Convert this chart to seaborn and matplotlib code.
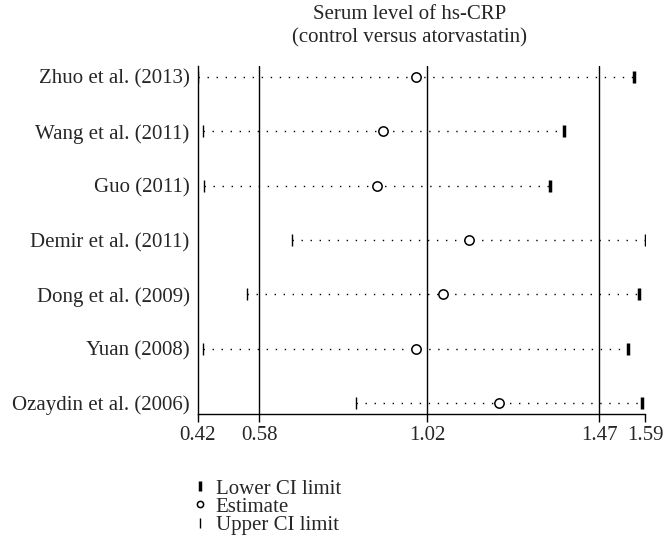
import matplotlib
matplotlib.use('Agg')
import matplotlib.pyplot as plt
import seaborn as sns
import pandas as pd
from matplotlib.lines import Line2D

# Study data
studies = ['Zhuo et al. (2013)', 'Wang et al. (2011)', 'Guo (2011)', 'Demir et al. (2011)',
           'Dong et al. (2009)', 'Yuan (2008)', 'Ozaydin et al. (2006)']
lower = [0.42, 0.434, 0.436, 0.666, 0.549, 0.434, 0.834]
estimate = [0.991, 0.905, 0.889, 1.130, 1.062, 0.991, 1.209]
upper = [1.560, 1.378, 1.341, 1.593, 1.574, 1.546, 1.582]
xticks = [0.42, 0.58, 1.02, 1.47, 1.59]
ref_lines = [0.58, 1.02, 1.47]

df = pd.DataFrame({'study': studies, 'lower': lower, 'estimate': estimate, 'upper': upper})
df['pos'] = range(len(df), 0, -1)

sns.set_style('white')
plt.rcParams['font.family'] = ['Liberation Serif', 'DejaVu Serif']
FS = 15

fig = plt.figure(figsize=(6.68, 5.43), dpi=100)
ax = fig.add_axes([0.2964, 0.2376, 0.6692, 0.6409])

for x in ref_lines:
    ax.axvline(x, color='black', lw=1.0, zorder=1)

# dotted CI lines
ax.hlines(df['pos'], df['lower'], df['upper'], color='black', lw=1.0,
          linestyles=(0, (1, 5.5)), zorder=2)

ax.plot(df['lower'], df['pos'], ls='none', marker='|', ms=8, mew=1.0, color='black', zorder=3)
ax.plot(df['upper'], df['pos'], ls='none', marker='|', ms=9, mew=2.5, color='black', zorder=3)
sns.scatterplot(data=df, x='estimate', y='pos', ax=ax, marker='o', s=45,
                facecolor='white', edgecolor='black', linewidth=1.1, zorder=4)

ax.set_xlim(0.42, 1.59)
ax.set_ylim(0.8, 7.2)
ax.set_xticks(xticks)
ax.set_xticklabels([f'{t:.2f}' for t in xticks], fontsize=FS)
ax.set_yticks(df['pos'])
ax.set_yticklabels(df['study'], fontsize=FS)
ax.tick_params(axis='y', length=0, pad=6)
ax.tick_params(axis='x', direction='out', length=6, width=1, color='black', pad=3, bottom=True)
ax.set_xlabel('')
ax.set_ylabel('')
for side in ['top', 'right']:
    ax.spines[side].set_visible(False)
for side in ['left', 'bottom']:
    ax.spines[side].set_color('black')
    ax.spines[side].set_linewidth(1.0)

fig.text(410 / 668, 1 - 5 / 543, 'Serum level of hs-CRP\n(control versus atorvastatin)',
         ha='center', va='top', fontsize=FS, linespacing=1.3)

handles = [
    Line2D([], [], ls='none', marker='|', ms=7, mew=2.5, color='black'),
    Line2D([], [], ls='none', marker='o', ms=4.5, mfc='white', mec='black', mew=1.1),
    Line2D([], [], ls='none', marker='|', ms=7, mew=1.0, color='black'),
]
fig.legend(handles, ['Lower CI limit', 'Estimate', 'Upper CI limit'],
           loc='upper left', bbox_to_anchor=(194 / 668, 1 - 479 / 543), frameon=False,
           fontsize=FS, handlelength=0.6, handletextpad=0.45, labelspacing=-0.07,
           borderpad=0, borderaxespad=0)

fig.savefig('out.png', dpi=100)
